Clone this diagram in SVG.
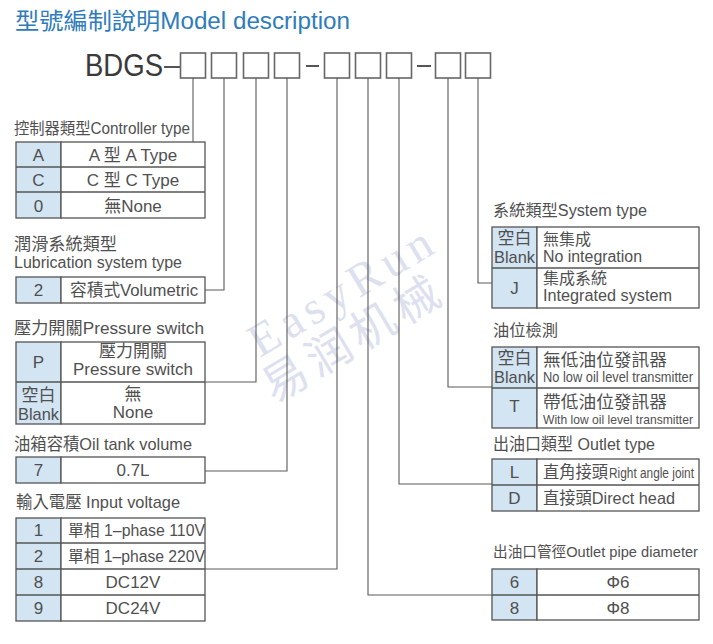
<svg xmlns="http://www.w3.org/2000/svg" width="713" height="644" viewBox="0 0 713 644">
<style>
text{font-family:"Liberation Sans","Noto Sans CJK TC",sans-serif;fill:#505050;}
.lb{font-size:16px;}
.c{text-anchor:middle;font-size:17px;}
.k{fill:#d3e5f3;stroke:#555;stroke-width:1.3;}
.v{fill:#fff;stroke:#555;stroke-width:1.3;}
.ln{stroke:#555;stroke-width:1.3;fill:none;}
.box{fill:#fff;stroke:#666;stroke-width:1.6;}
.con{stroke:#5a5a5a;stroke-width:1.1;fill:none;}
.wm{font-family:"Liberation Serif","Noto Sans CJK SC",serif;fill:#bcc3df;opacity:0.5;}
</style>
<rect width="713" height="644" fill="#fff"/>

<g id="title">
<text x="15" y="29" font-size="23" style="fill:#2f7cbc" textLength="335" lengthAdjust="spacingAndGlyphs">型號編制說明Model description</text>
</g>

<g id="model-code">
<text x="85" y="76" font-size="32" style="fill:#3a3a3a" textLength="78" lengthAdjust="spacingAndGlyphs">BDGS</text>
<g stroke="#555" stroke-width="2">
<line x1="164" y1="67" x2="181" y2="67"/>
<line x1="306" y1="66" x2="319" y2="66"/>
<line x1="417" y1="66" x2="431" y2="66"/>
</g>
<rect class="box" x="180.5" y="53" width="25" height="25"/>
<rect class="box" x="211.5" y="53" width="25" height="25"/>
<rect class="box" x="243.5" y="53" width="25" height="25"/>
<rect class="box" x="274.5" y="53" width="25" height="25"/>
<rect class="box" x="324.5" y="53" width="25" height="25"/>
<rect class="box" x="355.5" y="53" width="25" height="25"/>
<rect class="box" x="386.5" y="53" width="25" height="25"/>
<rect class="box" x="435.5" y="53" width="25" height="25"/>
<rect class="box" x="465.5" y="53" width="25" height="25"/>
</g>

<g id="watermark">
<text class="wm" x="260" y="358" font-size="47" letter-spacing="6" transform="rotate(-31 260 358)">EasyRun</text>
<text class="wm" x="274" y="404" font-size="45" letter-spacing="6" transform="rotate(-31 274 404)">易润机械</text>
</g>

<g id="connectors">
<path class="con" d="M193 78V142"/>
<path class="con" d="M224 78V290H205"/>
<path class="con" d="M256 78V382H205"/>
<path class="con" d="M287 78V471H205"/>
<path class="con" d="M337 78V569H205"/>
<path class="con" d="M368 78V595H492"/>
<path class="con" d="M399 78V484H492"/>
<path class="con" d="M448 78V387H492"/>
<path class="con" d="M478 78V283H492"/>
</g>

<g id="controller-type">
<text class="lb" x="14" y="134" textLength="176" lengthAdjust="spacingAndGlyphs">控制器類型Controller type</text>
<rect class="k" x="16" y="142" width="45" height="76"/>
<rect class="v" x="61" y="142" width="144" height="76"/>
<path class="ln" d="M16 167H205M16 192H205"/>
<text class="c" x="38.5" y="161">A</text>
<text class="c" x="38.5" y="186">C</text>
<text class="c" x="38.5" y="212">0</text>
<text class="c" x="133" y="161">A 型 A Type</text>
<text class="c" x="133" y="186">C 型 C Type</text>
<text class="c" x="133" y="212">無None</text>
</g>

<g id="lubrication-system-type">
<text x="14" y="250" font-size="17" textLength="103" lengthAdjust="spacingAndGlyphs">潤滑系統類型</text>
<text class="lb" x="14" y="268" textLength="168" lengthAdjust="spacingAndGlyphs">Lubrication system type</text>
<rect class="k" x="16" y="277" width="45" height="26"/>
<rect class="v" x="61" y="277" width="144" height="26"/>
<text class="c" x="38.5" y="296">2</text>
<text class="c" x="134" y="296" textLength="128" lengthAdjust="spacingAndGlyphs">容積式Volumetric</text>
</g>

<g id="pressure-switch">
<text x="14" y="334" font-size="17" textLength="190" lengthAdjust="spacingAndGlyphs">壓力開關Pressure switch</text>
<rect class="k" x="16" y="342" width="45" height="82"/>
<rect class="v" x="61" y="342" width="144" height="82"/>
<path class="ln" d="M16 382H205"/>
<text class="c" x="38.5" y="368">P</text>
<text class="c" x="38.5" y="401" font-size="14">空白</text>
<text class="c" x="38.5" y="420" font-size="15" textLength="41" lengthAdjust="spacingAndGlyphs">Blank</text>
<text class="c" x="133" y="357" font-size="16">壓力開關</text>
<text class="c" x="133" y="375" font-size="15.5">Pressure switch</text>
<text class="c" x="133" y="400" font-size="16">無</text>
<text class="c" x="133" y="418" font-size="16">None</text>
</g>

<g id="oil-tank-volume">
<text x="14" y="450" font-size="17" textLength="178" lengthAdjust="spacingAndGlyphs">油箱容積Oil tank volume</text>
<rect class="k" x="16" y="457" width="45" height="26"/>
<rect class="v" x="61" y="457" width="144" height="26"/>
<text class="c" x="38.5" y="476">7</text>
<text class="c" x="133" y="476">0.7L</text>
</g>

<g id="input-voltage">
<text x="16" y="508" font-size="17" textLength="164" lengthAdjust="spacingAndGlyphs">輸入電壓 Input voltage</text>
<rect class="k" x="16" y="518" width="45" height="103"/>
<rect class="v" x="61" y="518" width="144" height="103"/>
<path class="ln" d="M16 543H205M16 569H205M16 595H205"/>
<text class="c" x="38.5" y="536">1</text>
<text class="c" x="38.5" y="562">2</text>
<text class="c" x="38.5" y="588">8</text>
<text class="c" x="38.5" y="614">9</text>
<text x="68" y="536" font-size="16" textLength="137" lengthAdjust="spacingAndGlyphs">單相 1–phase 110V</text>
<text x="68" y="562" font-size="16" textLength="137" lengthAdjust="spacingAndGlyphs">單相 1–phase 220V</text>
<text class="c" x="133" y="588">DC12V</text>
<text class="c" x="133" y="614">DC24V</text>
</g>

<g id="system-type">
<text class="lb" x="493" y="216" textLength="154" lengthAdjust="spacingAndGlyphs">系統類型System type</text>
<rect class="k" x="492" y="227" width="45" height="81"/>
<rect class="v" x="537" y="227" width="162" height="81"/>
<path class="ln" d="M492 268H699"/>
<text class="c" x="514.5" y="244" font-size="14">空白</text>
<text class="c" x="514.5" y="263" font-size="15" textLength="41" lengthAdjust="spacingAndGlyphs">Blank</text>
<text class="c" x="514.5" y="294">J</text>
<text x="543" y="245" font-size="16">無集成</text>
<text x="543" y="262" font-size="16" textLength="99" lengthAdjust="spacingAndGlyphs">No integration</text>
<text x="543" y="284" font-size="16">集成系統</text>
<text x="543" y="301" font-size="16" textLength="129" lengthAdjust="spacingAndGlyphs">Integrated system</text>
</g>

<g id="oil-level-detection">
<text class="lb" x="493" y="336" textLength="65" lengthAdjust="spacingAndGlyphs">油位檢測</text>
<rect class="k" x="492" y="347" width="45" height="81"/>
<rect class="v" x="537" y="347" width="162" height="81"/>
<path class="ln" d="M492 388H699"/>
<text class="c" x="514.5" y="364" font-size="14">空白</text>
<text class="c" x="514.5" y="383" font-size="15" textLength="41" lengthAdjust="spacingAndGlyphs">Blank</text>
<text class="c" x="514.5" y="412">T</text>
<text x="543" y="366" font-size="17" textLength="124" lengthAdjust="spacingAndGlyphs">無低油位發訊器</text>
<text x="543" y="382" font-size="14" textLength="150" lengthAdjust="spacingAndGlyphs">No low oil level transmitter</text>
<text x="543" y="408" font-size="17" textLength="124" lengthAdjust="spacingAndGlyphs">帶低油位發訊器</text>
<text x="543" y="424" font-size="13.5" textLength="150" lengthAdjust="spacingAndGlyphs">With low oil level transmitter</text>
</g>

<g id="outlet-type">
<text x="493" y="450" font-size="16.5" textLength="162" lengthAdjust="spacingAndGlyphs">出油口類型 Outlet type</text>
<rect class="k" x="492" y="459" width="45" height="52"/>
<rect class="v" x="537" y="459" width="162" height="52"/>
<path class="ln" d="M492 485H699"/>
<text class="c" x="514.5" y="478">L</text>
<text class="c" x="514.5" y="504">D</text>
<text x="543" y="478" font-size="16.5" textLength="65" lengthAdjust="spacingAndGlyphs">直角接頭</text>
<text x="609" y="478" font-size="14" textLength="85" lengthAdjust="spacingAndGlyphs">Right angle joint</text>
<text x="543" y="504" font-size="16.5" textLength="132" lengthAdjust="spacingAndGlyphs">直接頭Direct head</text>
</g>

<g id="outlet-pipe-diameter">
<text x="493" y="557" font-size="15" textLength="205" lengthAdjust="spacingAndGlyphs">出油口管徑Outlet pipe diameter</text>
<rect class="k" x="492" y="569" width="45" height="51"/>
<rect class="v" x="537" y="569" width="162" height="51"/>
<path class="ln" d="M492 595H699"/>
<text class="c" x="514.5" y="588">6</text>
<text class="c" x="514.5" y="614">8</text>
<text class="c" x="618" y="588">Φ6</text>
<text class="c" x="618" y="614">Φ8</text>
</g>
</svg>
